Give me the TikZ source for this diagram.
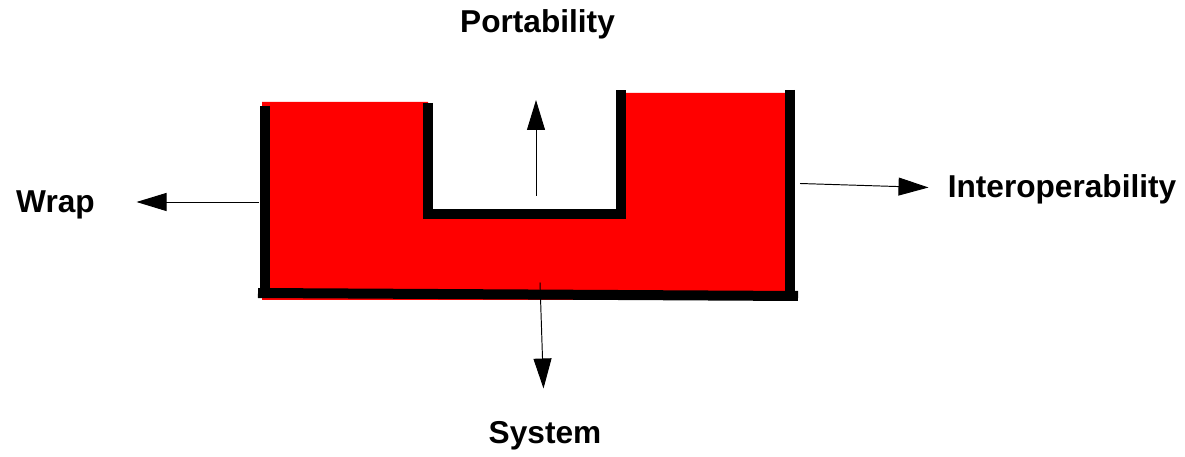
\documentclass[tikz,border=0pt]{standalone}
\usepackage{fontspec}
\setmainfont{Liberation Sans}
\usetikzlibrary{arrows.meta}

\begin{document}
\begin{tikzpicture}[
    wall/.style={line width=0.2cm, draw=black},
    flow/.style={-{Triangle[length=0.6cm, width=0.36cm]}, line width=0.55pt},
    lbl/.style={font=\fontsize{18}{21}\selectfont\bfseries, anchor=base, inner sep=0pt}
]
\useasboundingbox (0,0) rectangle (23.7,9.12);

% red body
\fill[red] (5.24,3.12) -- (5.24,7.08) -- (8.56,7.08) -- (8.56,4.84)
    -- (12.42,4.84) -- (12.42,7.26) -- (15.70,7.26) -- (15.70,3.12) -- cycle;

% black walls
\draw[wall] (5.29,7.0) -- (5.29,3.2);
\draw[wall] (8.55,7.06) -- (8.55,4.84) -- (12.42,4.84) -- (12.42,7.32);
\draw[wall] (15.79,7.32) -- (15.79,3.2);
\draw[wall] (5.16,3.26) -- (15.96,3.2);

% labels
\node[lbl] (port)  at (10.75,8.46) {Portability};
\node[lbl] (wrap)  at (1.11,4.86)  {Wrap};
\node[lbl] (inter) at (21.24,5.16) {Interoperability};
\node[lbl] (sys)   at (10.9,0.26)  {System};

% arrow ends
\coordinate (portA)  at (10.72,5.2);
\coordinate (portB)  at (10.72,7.12);
\coordinate (wrapA)  at (5.18,5.08);
\coordinate (wrapB)  at (2.73,5.08);
\coordinate (interA) at (16.0,5.45);
\coordinate (interB) at (18.57,5.37);
\coordinate (sysA)   at (10.8,3.47);
\coordinate (sysB)   at (10.87,1.35);

\draw[flow] (portA) -- (portB);
\draw[flow] (wrapA) -- (wrapB);
\draw[flow] (interA) -- (interB);
\draw[flow] (sysA) -- (sysB);

\end{tikzpicture}
\end{document}
